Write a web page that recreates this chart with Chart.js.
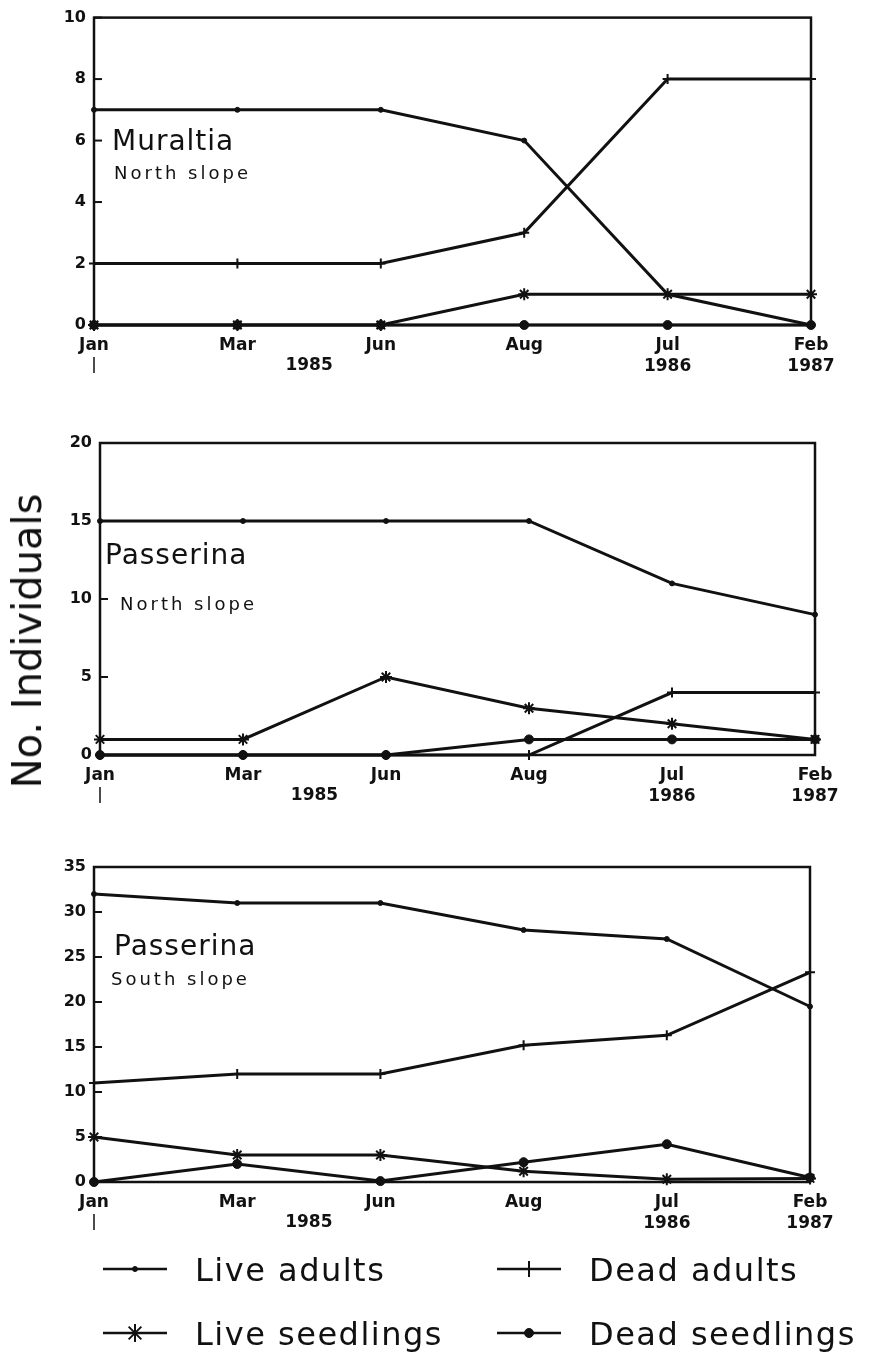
<!DOCTYPE html>
<html lang="en">
<head>
  <meta charset="UTF-8" />
  <title>No. Individuals - Muraltia / Passerina</title>
  <script src="https://cdn.jsdelivr.net/npm/chart.js"></script>

  <style>
    body {
      margin: 0;
      padding: 0;
      background-color: #fff;
      width: 869px;
      height: 1360px;
      overflow: hidden;
      position: relative;
    }

    /* every panel canvas covers the whole page, so plugin coords are page coords */
    canvas.panel {
      position: absolute;
      left: 0;
      top: 0;
    }

    .y-title {
      position: absolute;
      left: 27px;
      top: 641px;
      transform: translate(-50%, -50%) rotate(-90deg);
      font-family: 'DejaVu Sans', sans-serif;
      font-size: 40px;
      color: #111;
      white-space: nowrap;
    }
  </style>
</head>
<body>

  <canvas id="muraltiaNorth" class="panel" width="869" height="1360"></canvas>
  <canvas id="passerinaNorth" class="panel" width="869" height="1360"></canvas>
  <canvas id="passerinaSouth" class="panel" width="869" height="1360"></canvas>
  <div class="y-title">No. Individuals</div>

  <script>
    // sampling dates
    const months = ['Jan', 'Mar', 'Jun', 'Aug', 'Jul', 'Feb'];
    const monthTicks = ['Jan', 'Mar', 'Jun', 'Aug', ['Jul', '1986'], ['Feb', '1987']];
    const firstYear = '1985';

    // Muraltia, north slope
    const muraltiaNorthLiveAdults = [7, 7, 7, 6, 1, 0];
    const muraltiaNorthDeadAdults = [2, 2, 2, 3, 8, 8];
    const muraltiaNorthLiveSeedlings = [0, 0, 0, 1, 1, 1];
    const muraltiaNorthDeadSeedlings = [0, 0, 0, 0, 0, 0];

    // Passerina, north slope
    const passerinaNorthLiveAdults = [15, 15, 15, 15, 11, 9];
    const passerinaNorthDeadAdults = [0, 0, 0, 0, 4, 4];
    const passerinaNorthLiveSeedlings = [1, 1, 5, 3, 2, 1];
    const passerinaNorthDeadSeedlings = [0, 0, 0, 1, 1, 1];

    // Passerina, south slope
    const passerinaSouthLiveAdults = [32, 31, 31, 28, 27, 19.5];
    const passerinaSouthDeadAdults = [11, 12, 12, 15.2, 16.3, 23.3];
    const passerinaSouthLiveSeedlings = [5, 3, 3, 1.2, 0.3, 0.4];
    const passerinaSouthDeadSeedlings = [0, 2, 0.1, 2.2, 4.2, 0.5];

    const ink = '#111';

    // marker per series
    const seriesStyles = {
      'Live adults':    { pointStyle: 'circle', radius: 2.5, border: 1 },
      'Dead adults':    { pointStyle: 'cross',  radius: 5,   border: 2 },
      'Live seedlings': { pointStyle: 'star',   radius: 6,   border: 2 },
      'Dead seedlings': { pointStyle: 'circle', radius: 4.5, border: 1 }
    };

    function makeDataset(label, data) {
      const st = seriesStyles[label];
      return {
        label: label,
        data: data,
        borderColor: ink,
        backgroundColor: ink,
        borderWidth: 3,
        tension: 0,
        clip: false,
        pointStyle: st.pointStyle,
        pointRadius: st.radius,
        pointBorderWidth: st.border,
        pointBackgroundColor: ink,
        pointBorderColor: ink
      };
    }

    // box round the plot, inward y ticks, species name, year under the axis
    const panelDecor = {
      id: 'panelDecor',
      afterDraw(chart, args, opts) {
        const ctx = chart.ctx;
        const a = chart.chartArea;
        const xs = chart.scales.x;
        const ys = chart.scales.y;
        ctx.save();
        ctx.strokeStyle = ink;
        ctx.lineWidth = 2.5;
        ctx.strokeRect(a.left, a.top, a.right - a.left, a.bottom - a.top);

        ctx.lineWidth = 2;
        ys.ticks.forEach(t => {
          const y = ys.getPixelForValue(t.value);
          ctx.beginPath();
          ctx.moveTo(a.left, y);
          ctx.lineTo(a.left + 8, y);
          ctx.stroke();
        });

        // small mark under Jan
        const jx = xs.getPixelForValue(0);
        ctx.lineWidth = 1.5;
        ctx.beginPath();
        ctx.moveTo(jx, a.bottom + 32);
        ctx.lineTo(jx, a.bottom + 48);
        ctx.stroke();

        ctx.fillStyle = ink;
        ctx.textBaseline = 'middle';
        ctx.textAlign = 'center';
        ctx.font = 'bold 17px "DejaVu Sans"';
        ctx.fillText(firstYear, xs.getPixelForValue(1.5), a.bottom + 41);

        ctx.textAlign = 'left';
        ctx.font = '28px "DejaVu Sans"';
        ctx.letterSpacing = '1px';
        ctx.fillText(opts.name, opts.nameX, opts.nameY);
        ctx.font = '18px "DejaVu Sans"';
        ctx.letterSpacing = '3px';
        ctx.fillText(opts.slope, opts.slopeX, opts.slopeY);
        ctx.restore();
      }
    };

    // legend in two columns under the last panel
    const legendItems = [
      { label: 'Live adults',    x: 103, y: 1269 },
      { label: 'Dead adults',    x: 497, y: 1269 },
      { label: 'Live seedlings', x: 103, y: 1333 },
      { label: 'Dead seedlings', x: 497, y: 1333 }
    ];

    const bottomLegend = {
      id: 'bottomLegend',
      afterDraw(chart) {
        const ctx = chart.ctx;
        ctx.save();
        ctx.strokeStyle = ink;
        ctx.fillStyle = ink;
        legendItems.forEach(item => {
          const st = seriesStyles[item.label];
          ctx.lineWidth = 2.5;
          ctx.beginPath();
          ctx.moveTo(item.x, item.y);
          ctx.lineTo(item.x + 64, item.y);
          ctx.stroke();
          ctx.lineWidth = st.border;
          const r = st.pointStyle === 'circle' ? st.radius : st.radius + 3;
          if (Chart.helpers && Chart.helpers.drawPoint) {
            Chart.helpers.drawPoint(ctx, { pointStyle: st.pointStyle, radius: r, borderWidth: st.border, rotation: 0 }, item.x + 32, item.y);
          }
          ctx.font = '32px "DejaVu Sans"';
          ctx.letterSpacing = '1.5px';
          ctx.textBaseline = 'middle';
          ctx.textAlign = 'left';
          ctx.fillText(item.label, item.x + 92, item.y + 4);
        });
        ctx.restore();
      }
    };

    function makePanel(id, box, yMax, yStep, datasets, decor, extraPlugins) {
      return new Chart(document.getElementById(id), {
        type: 'line',
        data: { labels: monthTicks, datasets: datasets },
        plugins: [panelDecor].concat(extraPlugins || []),
        options: {
          responsive: false,
          animation: false,
          events: [],
          layout: { padding: { top: box.top, left: 0, right: 869 - box.right, bottom: 0 } },
          scales: {
            x: {
              offset: false,
              grid: { display: false, drawTicks: false },
              border: { display: false },
              ticks: {
                color: ink,
                autoSkip: false,
                maxRotation: 0,
                padding: 10,
                font: { family: 'DejaVu Sans', weight: 'bold', size: 17, lineHeight: 1.25 }
              },
              afterFit: s => { s.height = 1360 - box.bottom; }
            },
            y: {
              min: 0,
              max: yMax,
              grid: { display: false, drawTicks: false },
              border: { display: false },
              ticks: {
                stepSize: yStep,
                color: ink,
                padding: 8,
                font: { family: 'DejaVu Sans', weight: 'bold', size: 16 }
              },
              afterFit: s => { s.width = box.left; }
            }
          },
          plugins: {
            legend: { display: false },
            tooltip: { enabled: false },
            panelDecor: decor
          }
        }
      });
    }

    makePanel('muraltiaNorth', { top: 14, bottom: 325, left: 94, right: 811 }, 10, 2, [
      makeDataset('Live adults', muraltiaNorthLiveAdults),
      makeDataset('Dead adults', muraltiaNorthDeadAdults),
      makeDataset('Live seedlings', muraltiaNorthLiveSeedlings),
      makeDataset('Dead seedlings', muraltiaNorthDeadSeedlings)
    ], { name: 'Muraltia', nameX: 112, nameY: 143, slope: 'North slope', slopeX: 114, slopeY: 174 });

    makePanel('passerinaNorth', { top: 443, bottom: 755, left: 100, right: 815 }, 20, 5, [
      makeDataset('Live adults', passerinaNorthLiveAdults),
      makeDataset('Dead adults', passerinaNorthDeadAdults),
      makeDataset('Live seedlings', passerinaNorthLiveSeedlings),
      makeDataset('Dead seedlings', passerinaNorthDeadSeedlings)
    ], { name: 'Passerina', nameX: 105, nameY: 557, slope: 'North slope', slopeX: 120, slopeY: 605 });

    makePanel('passerinaSouth', { top: 867, bottom: 1182, left: 94, right: 810 }, 35, 5, [
      makeDataset('Live adults', passerinaSouthLiveAdults),
      makeDataset('Dead adults', passerinaSouthDeadAdults),
      makeDataset('Live seedlings', passerinaSouthLiveSeedlings),
      makeDataset('Dead seedlings', passerinaSouthDeadSeedlings)
    ], { name: 'Passerina', nameX: 114, nameY: 948, slope: 'South slope', slopeX: 111, slopeY: 980 }, [bottomLegend]);
  </script>

</body>
</html>
